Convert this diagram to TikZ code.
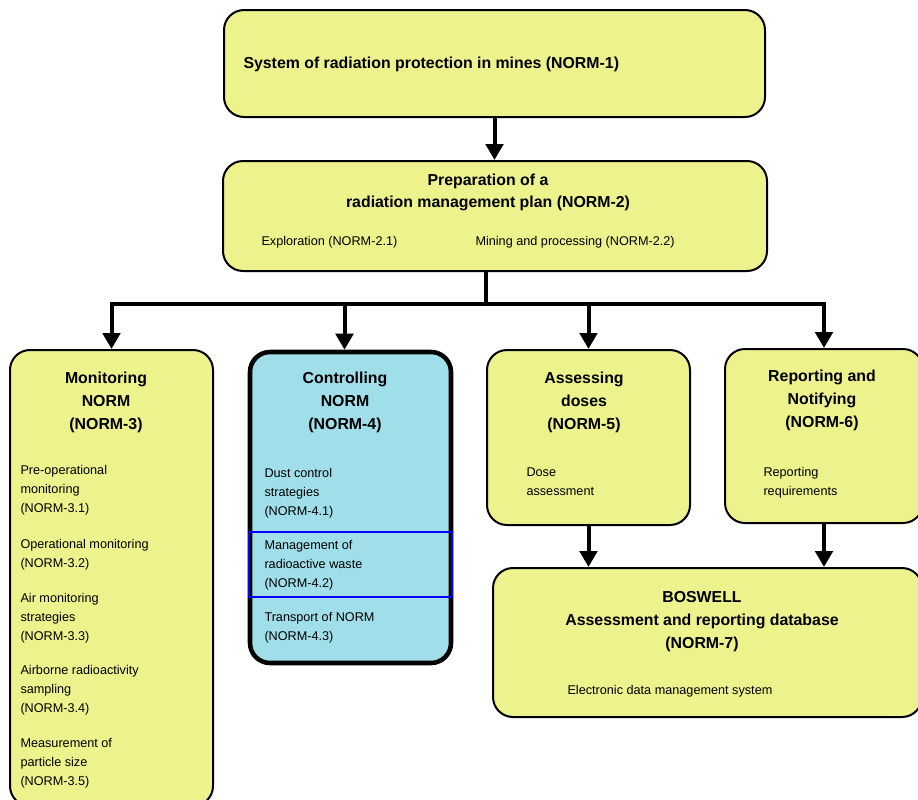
\documentclass[tikz,border=0pt]{standalone}
\usepackage{fontspec}
\setmainfont{Liberation Sans}
\usetikzlibrary{arrows.meta}

\tikzset{every picture/.style={line width=0.75pt}}

\begin{document}
\begin{tikzpicture}[x=0.75pt,y=0.75pt,yscale=-1,xscale=1,
  box/.style={draw=black, line width=1.5pt, rounded corners=15pt, inner sep=0pt, fill={rgb, 255:red, 237; green, 242; blue, 140 }},
  flow/.style={line width=3pt, -{Triangle[width=13pt,length=12pt]}},
  head/.style={font=\fontsize{11.9}{16.9}\selectfont\bfseries, align=center, anchor=base, inner sep=0pt},
  item/.style={font=\fontsize{9.5}{14.2}\selectfont, align=left, anchor=base west, inner sep=0pt}]
\useasboundingbox (0,0) rectangle (918,800);

%Rounded Rect: NORM-1
\node [box, minimum width=405.75pt, minimum height=80.25pt] (sys) at (494.5,63.5) {};
%Rounded Rect: NORM-2
\node [box, minimum width=408pt, minimum height=82.5pt] (plan) at (495,216) {};
%Rounded Rect: NORM-3
\node [box, minimum width=152.25pt, minimum height=342pt] (mon) at (111.5,578) {};
%Rounded Rect: NORM-4
\node [box, line width=3.4pt, fill={rgb, 255:red, 160; green, 223; blue, 234 }, minimum width=150.75pt, minimum height=233.25pt] (ctl) at (350.5,507.5) {};
%Rounded Rect: NORM-5
\node [box, minimum width=152.25pt, minimum height=131.25pt] (dose) at (588.5,437.5) {};
%Rounded Rect: NORM-6
\node [box, minimum width=148.5pt, minimum height=130.5pt] (rep) at (824,436) {};
%Rounded Rect: NORM-7
\node [box, minimum width=321.75pt, minimum height=111.75pt] (db) at (707.5,642.5) {};
%Rectangle: NORM-4.2
\node [draw={rgb, 255:red, 0; green, 0; blue, 255 }, line width=1.5pt, inner sep=0pt, minimum width=152.25pt, minimum height=48.75pt] (waste) at (350.5,564.5) {};

%Text (base = last line)
\node [font=\fontsize{11.9}{14}\selectfont\bfseries, anchor=base west, inner sep=0pt] (systxt) at (243,68) {System of radiation protection in mines (NORM-1)};
\node [head, font=\fontsize{11.9}{16.5}\selectfont\bfseries] (plantxt) at (488,207) {Preparation of a\\radiation management plan (NORM-2)};
\node [item] (expl) at (261,245.5) {Exploration (NORM-2.1)};
\node [item] (mining) at (475,245) {Mining and processing (NORM-2.2)};

\node [head] (montxt) at (106,429) {Monitoring\\NORM\\(NORM-3)};
\node [item] (m1) at (20,512) {Pre-operational\\monitoring\\(NORM-3.1)};
\node [item] (m2) at (20,567) {Operational monitoring\\(NORM-3.2)};
\node [item] (m3) at (20,640) {Air monitoring\\strategies\\(NORM-3.3)};
\node [item] (m4) at (20,712) {Airborne radioactivity\\sampling\\(NORM-3.4)};
\node [item] (m5) at (20,785) {Measurement of\\particle size\\(NORM-3.5)};

\node [head] (ctltxt) at (345,429) {Controlling\\NORM\\(NORM-4)};
\node [item] (c1) at (264,515) {Dust control\\strategies\\(NORM-4.1)};
\node [item] (c2) at (264,587) {Management of\\radioactive waste\\(NORM-4.2)};
\node [item] (c3) at (264,640) {Transport of NORM\\(NORM-4.3)};

\node [head] (dosetxt) at (584,429) {Assessing\\doses\\(NORM-5)};
\node [item] (d1) at (526,495) {Dose\\assessment};

\node [head] (reptxt) at (822,427) {Reporting and\\Notifying\\(NORM-6)};
\node [item] (r1) at (763,495) {Reporting\\requirements};

\node [head] (dbtxt) at (702,648) {BOSWELL\\Assessment and reporting database\\(NORM-7)};
\node [item] (b1) at (567,694) {Electronic data management system};

%Connectors
\coordinate (bus) at (486,304);
\coordinate (ctltop) at ([xshift=-4.5pt]ctl.north);
\draw [flow] (sys.south) -- (sys.south |- plan.north);
\draw [line width=3pt] (bus |- plan.south) -- (bus);
\draw [line width=3pt, line cap=rect] (mon.north |- bus) -- (rep.north |- bus);
\draw [flow] (mon.north |- bus) -- (mon.north);
\draw [flow] (ctltop |- bus) -- (ctltop);
\draw [flow] (dose.north |- bus) -- (dose.north);
\draw [flow] (rep.north |- bus) -- (rep.north);
\draw [flow] (dose.south) -- (dose.south |- db.north);
\draw [flow] (rep.south) -- (rep.south |- db.north);

\end{tikzpicture}
\end{document}
